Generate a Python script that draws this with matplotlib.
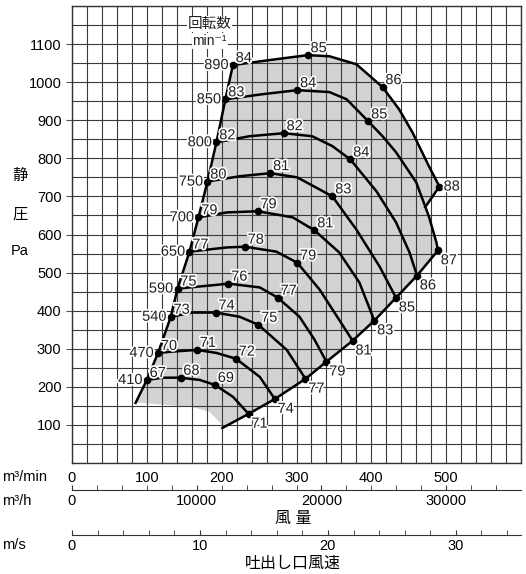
import matplotlib.pyplot as plt
import matplotlib.patheffects as pe
import numpy as np

plt.rcParams['font.family'] = ['Liberation Sans', 'DejaVu Sans', 'Noto Sans CJK JP']

# fan curves per speed: air volume (m3/min) vs static pressure (Pa)
q890 = [215, 264, 315, 344, 380, 415, 437, 455, 477, 491]
p890 = [1045, 1058, 1071, 1068, 1047, 987, 929, 868, 779, 726]
q850 = [205, 253, 301, 344, 367, 396, 415, 433, 460, 477, 487, 489]
p850 = [955, 968, 979, 974, 955, 897, 858, 816, 737, 647, 579, 558]
q800 = [193, 237, 283, 321, 348, 372, 407, 433, 451, 461]
p800 = [842, 858, 866, 858, 832, 797, 713, 632, 553, 492]
q750 = [181, 224, 265, 301, 348, 380, 411, 433]
p750 = [739, 753, 761, 750, 700, 613, 516, 434]
q700 = [169, 207, 248, 295, 324, 357, 384, 404]
p700 = [645, 658, 661, 645, 611, 553, 474, 374]
q650 = [157, 207, 231, 273, 301, 331, 357, 375]
p650 = [555, 566, 568, 555, 526, 455, 376, 321]
q590 = [141, 184, 209, 251, 275, 304, 324, 340]
p590 = [458, 466, 471, 461, 434, 384, 324, 266]
q540 = [132, 161, 192, 224, 249, 287, 312]
p540 = [384, 395, 395, 384, 363, 297, 221]
q470 = [115, 131, 167, 193, 219, 251, 271]
p470 = [289, 292, 297, 289, 274, 226, 168]
q410 = [100, 121, 145, 171, 191, 215, 236]
p410 = [218, 224, 224, 218, 205, 174, 129]

speeds = ['890', '850', '800', '750', '700', '650', '590', '540', '470', '410']

# marked points (index on curve) and their noise values
mark890, noise890 = [0, 2, 5, 9], ['84', '85', '86', '88']
mark850, noise850 = [0, 2, 5, 11], ['83', '84', '85', '87']
mark800, noise800 = [0, 2, 5, 9], ['82', '82', '84', '86']
mark750, noise750 = [0, 2, 4, 7], ['80', '81', '83', '85']
mark700, noise700 = [0, 2, 4, 7], ['79', '79', '81', '83']
mark650, noise650 = [0, 2, 4, 7], ['77', '78', '79', '81']
mark590, noise590 = [0, 2, 4, 7], ['75', '76', '77', '79']
mark540, noise540 = [0, 2, 4, 6], ['73', '74', '75', '77']
mark470, noise470 = [0, 2, 4, 6], ['70', '71', '72', '74']
mark410, noise410 = [0, 2, 4, 6], ['67', '68', '69', '71']

# extra boundary points
surge_tail = (85, 158)
limit_tail = (201, 92)
joint_88 = (472, 672)
shade_q = [197, 184, 161, 91]
shade_p = [108, 134, 147, 158]

CMM_TO_CMH = 60
VEL_PER_CMM = 10 / 171.0

curves = [(q890, p890, mark890, noise890), (q850, p850, mark850, noise850),
          (q800, p800, mark800, noise800), (q750, p750, mark750, noise750),
          (q700, p700, mark700, noise700), (q650, p650, mark650, noise650),
          (q590, p590, mark590, noise590), (q540, p540, mark540, noise540),
          (q470, p470, mark470, noise470), (q410, p410, mark410, noise410)]

W, H = 526, 574
fig = plt.figure(figsize=(W / 100, H / 100), dpi=100)
ax = fig.add_axes([72 / W, 1 - 463 / H, 449 / W, 457 / H])
ax.set_xlim(0, 600)
ax.set_ylim(0, 1200)

ax.set_xticks(np.arange(0, 501, 100))
ax.set_xticks(np.arange(0, 601, 20), minor=True)
ax.set_yticks(np.arange(100, 1101, 100))
ax.set_yticks(np.arange(0, 1201, 50), minor=True)
ax.grid(which='both', color='#3a3a3a', lw=0.8)
ax.tick_params(axis='x', which='both', length=0, pad=6, labelsize=10.5)
ax.tick_params(axis='y', which='major', length=4, labelsize=10.5, color='#555555')
ax.tick_params(axis='y', which='minor', length=0)
for s in ax.spines.values():
    s.set_color('#333333')
    s.set_linewidth(1.0)

halo = [pe.withStroke(linewidth=2.5, foreground='white')]
LW = 1.8

# shaded operating area
surge_q = [c[0][0] for c in curves]
surge_p = [c[1][0] for c in curves]
end_q = [c[0][-1] for c in curves[1:]]
end_p = [c[1][-1] for c in curves[1:]]
tail850 = [(q, p) for q, p in zip(q850, p850) if q > joint_88[0]]
poly_q = ([surge_tail[0]] + surge_q[::-1] + q890 + [joint_88[0]] + [t[0] for t in tail850]
          + end_q[1:] + [limit_tail[0]] + shade_q)
poly_p = ([surge_tail[1]] + surge_p[::-1] + p890 + [joint_88[1]] + [t[1] for t in tail850]
          + end_p[1:] + [limit_tail[1]] + shade_p)
ax.fill(poly_q, poly_p, color='#d2d2d4', zorder=1, lw=0)

# speed curves
for q, p, marks, noise in curves:
    ax.plot(q, p, color='black', lw=LW, zorder=3, solid_capstyle='round')

# surge line and max-flow line
ax.plot(surge_q + [surge_tail[0]], surge_p + [surge_tail[1]], color='black', lw=LW, zorder=3)
ax.plot(end_q + [limit_tail[0]], end_p + [limit_tail[1]], color='black', lw=LW, zorder=3)
ax.plot([q890[-1], joint_88[0]], [p890[-1], joint_88[1]], color='black', lw=LW, zorder=3)

for i, (q, p, marks, noise) in enumerate(curves):
    for j, (m, n) in enumerate(zip(marks, noise)):
        ax.plot(q[m], p[m], 'o', color='black', ms=4.5, zorder=4)
        last = (j == len(marks) - 1)
        if last and i == 0:
            off, ha, va = (3, 0), 'left', 'center'
        elif last:
            off, ha, va = (2, -2), 'left', 'top'
        else:
            off, ha, va = (2, 0), 'left', 'bottom'
        ax.annotate(n, (q[m], p[m]), xytext=off, textcoords='offset points',
                    ha=ha, va=va, fontsize=10.5, color='#222222',
                    path_effects=halo, zorder=5)
    ax.annotate(speeds[i], (q[0], p[0]), xytext=(-3, 0), textcoords='offset points',
                ha='right', va='center', fontsize=10.5, color='#222222',
                path_effects=halo, zorder=5)

ax.text(184, 1153, '回転数', ha='center', va='center', fontsize=10.5, color='#222222',
        bbox=dict(fc='white', ec='none', pad=0.5), zorder=5)
ax.text(184, 1108, 'min⁻¹', ha='center', va='center', fontsize=10, color='#222222',
        bbox=dict(fc='white', ec='none', pad=0.5), zorder=5)


def sub_axis(y_px, xmax, majors, minors):
    a = fig.add_axes([72 / W, 1 - y_px / H, 449 / W, 0.0001])
    a.set_xlim(0, xmax)
    a.set_yticks([])
    for side in ['top', 'left', 'right']:
        a.spines[side].set_visible(False)
    a.spines['bottom'].set_color('#333333')
    a.set_xticks(majors)
    a.set_xticks(minors, minor=True)
    a.tick_params(axis='x', which='both', direction='in', length=3.5,
                  pad=3, labelsize=10.5, color='#333333')
    a.patch.set_alpha(0)
    return a


sub_axis(490, 600 * CMM_TO_CMH, [0, 10000, 20000, 30000], np.arange(0, 34001, 2000))
sub_axis(535, 600 * VEL_PER_CMM, [0, 10, 20, 30], np.arange(0, 35, 2))

fig.text(2 / W, 1 - 477 / H, 'm³/min', ha='left', va='center', fontsize=10.5)
fig.text(2 / W, 1 - 501 / H, 'm³/h', ha='left', va='center', fontsize=10.5)
fig.text(2 / W, 1 - 545 / H, 'm/s', ha='left', va='center', fontsize=10.5)
fig.text(293 / W, 1 - 518 / H, '風 量', ha='center', va='center', fontsize=11.5)
fig.text(293 / W, 1 - 563 / H, '吐出し口風速', ha='center', va='center', fontsize=11.5)
fig.text(20 / W, 1 - 176 / H, '静', ha='center', va='center', fontsize=11)
fig.text(20 / W, 1 - 214 / H, '圧', ha='center', va='center', fontsize=11)
fig.text(20 / W, 1 - 251 / H, 'Pa', ha='center', va='center', fontsize=10.5)

fig.savefig('out.png', dpi=100)
